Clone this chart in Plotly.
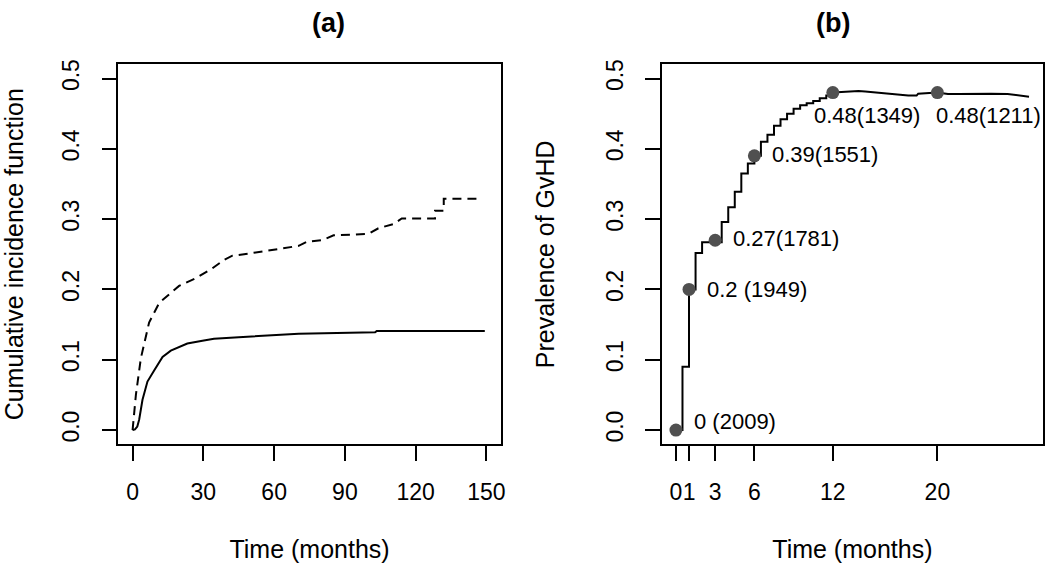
import plotly.graph_objects as go

# ---------------- data ----------------
# Panel (a): cumulative incidence curves (months, CIF)
cif_solid_t = [0, 1, 2, 2.8, 4.2, 6.3, 9.2, 12.7, 16.2, 23.2, 29.6, 34.5, 45, 59.9, 70.4, 102.8, 103.5, 149.3]
cif_solid_v = [0, 0.001, 0.005, 0.015, 0.043, 0.069, 0.085, 0.104, 0.113, 0.123, 0.127, 0.130, 0.132, 0.135, 0.137, 0.139, 0.141, 0.141]

cif_dash_t = [0, 1.4, 3.5, 7.0, 11.3, 15.5, 19.7, 26.8, 33.8, 38.7, 42.3, 49.3, 56.3, 64.8, 70.4, 73.9, 80.3, 85.2,
              100.0, 104.2, 110.6, 114.1, 128.2, 128.2, 131.9, 131.9, 145.8]
cif_dash_v = [0, 0.05, 0.102, 0.153, 0.181, 0.193, 0.205, 0.216, 0.230, 0.242, 0.248, 0.251, 0.255, 0.259, 0.262,
              0.268, 0.270, 0.277, 0.279, 0.287, 0.293, 0.301, 0.301, 0.312, 0.312, 0.329, 0.329]

# Panel (b): prevalence of GvHD (step part up to 12 months)
prev_step_t = [0, 0.5, 1.0, 1.5, 2.0, 3.5, 4.0, 4.5, 5.0, 5.5, 6.0, 6.5, 7.0, 7.5, 8.0, 8.5, 9.0, 9.5, 10.0, 10.5, 11.0, 11.5, 12.0]
prev_step_v = [0, 0.09, 0.2, 0.252, 0.267, 0.296, 0.317, 0.339, 0.365, 0.379, 0.39, 0.41, 0.42, 0.433, 0.442, 0.45,
               0.457, 0.462, 0.465, 0.468, 0.472, 0.476, 0.48]
# later part (12 to 27 months)
prev_tail_t = [12.0, 12.96, 13.97, 14.48, 15.49, 16.51, 17.77, 18.41, 18.53, 19.97, 20.81, 21.57, 22.84, 24.1, 25.37, 26.13, 27.01]
prev_tail_v = [0.48, 0.4813, 0.4822, 0.4817, 0.4799, 0.478, 0.4757, 0.4757, 0.4785, 0.48, 0.478, 0.478, 0.4785, 0.4785,
               0.478, 0.4766, 0.4742]

# highlighted time points
pt_time = [0, 1, 3, 6, 12, 20]
pt_prev = [0, 0.2, 0.27, 0.39, 0.48, 0.48]
pt_n = [2009, 1949, 1781, 1551, 1349, 1211]

ticks_a_x = [0, 30, 60, 90, 120, 150]
ticks_b_x = [0, 1, 3, 6, 12, 20]
ticks_y = [0.0, 0.1, 0.2, 0.3, 0.4, 0.5]
ticks_y_text = ["0.0", "0.1", "0.2", "0.3", "0.4", "0.5"]

# ---------------- figure ----------------
FONT = "Liberation Sans, Arial, Helvetica, sans-serif"
W, H = 1050, 568

fig = go.Figure()

fig.add_trace(go.Scatter(x=cif_dash_t, y=cif_dash_v, mode="lines",
                         line=dict(color="black", width=2, dash="9px,6px"),
                         xaxis="x", yaxis="y", showlegend=False))
fig.add_trace(go.Scatter(x=cif_solid_t, y=cif_solid_v, mode="lines",
                         line=dict(color="black", width=2),
                         xaxis="x", yaxis="y", showlegend=False))

fig.add_trace(go.Scatter(x=prev_step_t, y=prev_step_v, mode="lines",
                         line=dict(color="black", width=2, shape="hv"),
                         xaxis="x2", yaxis="y2", showlegend=False))
fig.add_trace(go.Scatter(x=prev_tail_t, y=prev_tail_v, mode="lines",
                         line=dict(color="black", width=2),
                         xaxis="x2", yaxis="y2", showlegend=False))
fig.add_trace(go.Scatter(x=pt_time, y=pt_prev, mode="markers",
                         marker=dict(color="#505050", size=13),
                         xaxis="x2", yaxis="y2", showlegend=False))

# point labels
def lab(p, n):
    s = f"{p:g}"
    return s + (" " if len(s) < 4 else "") + f"({n})"

offsets = [(16, 9), (16, 0), (16, 2), (16, 1), (-20.5, -23), (-3, -23)]
for (t, p, n), (dx, dy) in zip(zip(pt_time, pt_prev, pt_n), offsets):
    fig.add_annotation(x=t, y=p, xref="x2", yref="y2", text=lab(p, n), showarrow=False,
                       xanchor="left", yanchor="middle", xshift=dx, yshift=dy,
                       font=dict(family=FONT, size=22, color="black"))

xa_dom = [119 / W, 503 / W]
xb_dom = [665 / W, 1048 / W]
y_dom = [1 - 443 / H, 1 - 60 / H]

axis_common = dict(showline=True, mirror=True, linecolor="black", linewidth=1.5,
                   ticks="outside", ticklen=15, tickwidth=1.5, tickcolor="black",
                   showgrid=False, zeroline=False,
                   tickfont=dict(family=FONT, size=23, color="black"))
TITLE_FONT = dict(family=FONT, size=25, color="black")

fig.update_layout(
    width=W, height=H,
    margin=dict(l=0, r=0, t=0, b=0),
    paper_bgcolor="white", plot_bgcolor="white",
    font=dict(family=FONT, color="black"),
    xaxis=dict(domain=xa_dom, range=[-6, 156], tickmode="array", tickvals=ticks_a_x,
               tickangle=0, anchor="y", ticklabelstandoff=12,
               title=dict(text="Time (months)", font=TITLE_FONT, standoff=36),
               **axis_common),
    yaxis=dict(domain=y_dom, range=[-0.02, 0.52], tickmode="array", tickvals=ticks_y,
               ticktext=ticks_y_text, tickangle=-90, anchor="x", ticklabelstandoff=13,
               title=dict(text="Cumulative incidence function", font=TITLE_FONT, standoff=40),
               **axis_common),
    xaxis2=dict(domain=xb_dom, range=[-1.08, 28.08], tickmode="array", tickvals=ticks_b_x,
                tickangle=0, anchor="y2", ticklabelstandoff=12,
                title=dict(text="Time (months)", font=TITLE_FONT, standoff=36),
                **axis_common),
    yaxis2=dict(domain=y_dom, range=[-0.02, 0.52], tickmode="array", tickvals=ticks_y,
                ticktext=ticks_y_text, tickangle=-90, anchor="x2", ticklabelstandoff=13,
                title=dict(text="Prevalence of GvHD", font=TITLE_FONT, standoff=40),
                **axis_common),
)

fig.add_annotation(x=sum(xa_dom) / 2, y=1 - 18 / H, xref="paper", yref="paper", text="<b>(a)</b>",
                   showarrow=False, yanchor="middle", font=dict(family=FONT, size=27, color="black"))
fig.add_annotation(x=sum(xb_dom) / 2, y=1 - 18 / H, xref="paper", yref="paper", text="<b>(b)</b>",
                   showarrow=False, yanchor="middle", font=dict(family=FONT, size=27, color="black"))

fig.write_html("out.html", config={"displayModeBar": False},
               post_script="document.body.style.margin='0';document.body.style.overflow='hidden';")
